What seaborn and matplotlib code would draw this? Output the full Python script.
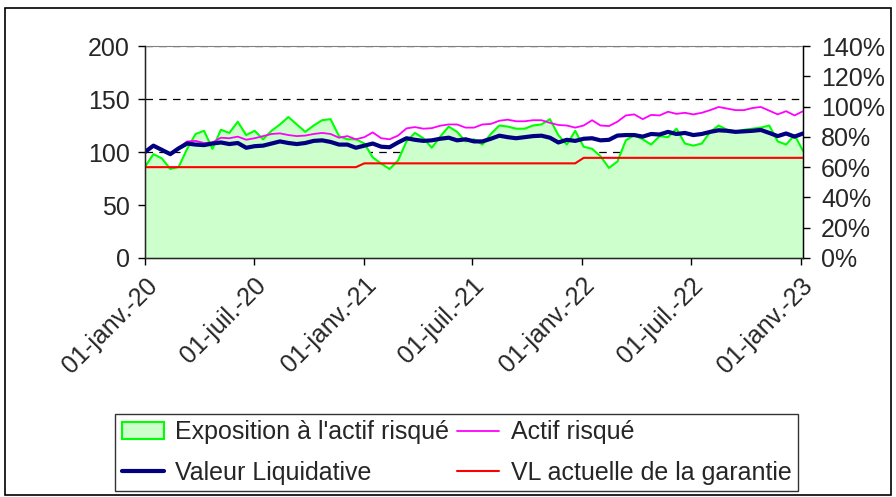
import matplotlib
matplotlib.use('Agg')
import matplotlib.pyplot as plt
from matplotlib.patches import Patch, Rectangle
from matplotlib.lines import Line2D
import pandas as pd
import seaborn as sns

# biweekly readings, Jan 2020 -> Jan 2023
dates = pd.date_range('2020-01-01', '2023-01-05', periods=79)

exposition = [86, 98, 94, 84, 86, 103, 117, 120, 103, 121, 118, 128.5, 116, 120, 112, 120,
              126, 133, 126, 119, 125, 130, 131, 115, 112, 112, 108, 95, 89, 84, 92, 110,
              118, 113, 104, 114.5, 124, 119, 110, 112, 107, 117, 125, 124, 122, 122, 125,
              126, 131, 116, 107, 120, 105, 103, 96, 85, 91, 111, 116, 112, 107, 115, 114,
              122, 108, 106, 108, 119, 125, 121, 119, 121, 122, 123, 125, 110, 107, 116, 101]

actif_risque = [101, 106, 102, 98.5, 104, 110, 110.5, 108.5, 109, 113.5, 113, 114.5, 111.6,
                113, 115, 117, 117.6, 116, 115, 115.5, 117, 118, 117, 113.5, 115, 112, 114,
                118.5, 113, 112, 115.5, 122.3, 123.5, 122, 122.5, 124.8, 126, 126, 123, 123,
                126, 126.5, 129.5, 130.5, 129, 129, 130, 130, 127.5, 125.5, 125, 123, 125,
                130, 125, 124.5, 128.6, 134.5, 135.5, 131, 135, 134.5, 138, 136, 137, 135.5,
                137, 139.5, 142.5, 141, 139.5, 139.5, 141.5, 142.5, 139, 135.5, 138.5, 134.5,
                138.5]

valeur_liquidative = [100, 106, 102, 98, 103.5, 108, 107, 106.5, 108, 109, 107.5, 108.5, 104,
                      105.5, 106, 108, 110, 108.5, 107.5, 108.5, 110.5, 111, 109.5, 107, 107,
                      104, 106, 108, 105, 104.5, 109, 113, 111.5, 110.5, 111, 112.5, 113.5, 111,
                      112, 110, 110, 112.5, 115.4, 114, 113, 114, 115, 115.4, 113.5, 109, 111.5,
                      110.5, 112.5, 113, 111, 111.5, 115.5, 116, 116, 114.5, 117, 116.5, 119,
                      117, 118, 116, 117, 119, 120.5, 120, 119, 119.5, 120, 120.8, 118, 115,
                      117.5, 114.5, 117.5]

garantie = [85.7] * 26 + [89.3] * 26 + [94.5] * 27

y_left_ticks = [0, 50, 100, 150, 200]
y_right_ticks = [0, 0.2, 0.4, 0.6, 0.8, 1.0, 1.2, 1.4]
y_right_labels = ['0%', '20%', '40%', '60%', '80%', '100%', '120%', '140%']
x_tick_dates = pd.to_datetime(['2020-01-01', '2020-07-01', '2021-01-01', '2021-07-01',
                               '2022-01-01', '2022-07-01', '2023-01-01'])
x_tick_labels = ['01-janv.-20', '01-juil.-20', '01-janv.-21', '01-juil.-21',
                 '01-janv.-22', '01-juil.-22', '01-janv.-23']

sns.set_style('white')
plt.rcParams['font.family'] = ['Liberation Sans', 'DejaVu Sans']
plt.rcParams['font.size'] = 18

fig = plt.figure(figsize=(8.96, 4.97), dpi=100)
ax = fig.add_axes([0.1618, 0.4809, 0.7344, 0.4265])

ax.fill_between(dates, 0, exposition, color='#CCFFCC', zorder=1, linewidth=0)
sns.lineplot(x=dates, y=exposition, ax=ax, color='#00FF00', linewidth=1.5, zorder=2)
sns.lineplot(x=dates, y=actif_risque, ax=ax, color='#FF00FF', linewidth=1.3, zorder=3)
sns.lineplot(x=dates, y=garantie, ax=ax, color='#FF0000', linewidth=1.5, zorder=3)
sns.lineplot(x=dates, y=valeur_liquidative, ax=ax, color='#000080', linewidth=3, zorder=4)

ax.set_xlim(dates[0], dates[-1])
ax.set_ylim(0, 200)
ax.set_yticks(y_left_ticks)
ax.set_xticks(x_tick_dates)
ax.set_xticklabels(x_tick_labels, rotation=45, ha='right', rotation_mode='anchor')
ax.set_xlabel('')
ax.set_ylabel('')
ax.set_axisbelow(True)
ax.yaxis.grid(True, linestyle=(0, (6, 5)), color='black', linewidth=0.9)
ax.tick_params(axis='both', direction='out', length=5, width=1, color='black',
               left=True, bottom=True, labelsize=18, pad=6)
for side in ['left', 'bottom', 'right']:
    ax.spines[side].set_color('black')
    ax.spines[side].set_linewidth(1)
ax.spines['top'].set_color('#808080')

ax2 = ax.twinx()
ax2.set_ylim(0, 1.4)
ax2.set_yticks(y_right_ticks)
ax2.set_yticklabels(y_right_labels)
ax2.tick_params(axis='y', direction='out', length=5, width=1, color='black',
                right=True, labelsize=18, pad=8)
ax2.spines['right'].set_color('black')
ax2.spines['top'].set_visible(False)
ax2.grid(False)

handles = [
    Patch(facecolor='#CCFFCC', edgecolor='#00FF00', linewidth=1.5),
    Line2D([0], [0], color='#000080', linewidth=3),
    Line2D([0], [0], color='#FF00FF', linewidth=1.3),
    Line2D([0], [0], color='#FF0000', linewidth=1.5),
]
labels = ["Exposition à l'actif risqué", 'Valeur Liquidative', 'Actif risqué',
          'VL actuelle de la garantie']
leg = fig.legend(handles, labels, ncol=2, loc='center', bbox_to_anchor=(0.5095, 0.0895),
                 fontsize=18, frameon=True, fancybox=False, edgecolor='black',
                 handlelength=1.7, columnspacing=0.3, handletextpad=0.45,
                 borderpad=0.25, labelspacing=0.65)
leg.get_frame().set_linewidth(1)

fig.patches.append(Rectangle((0.006, 0.004), 0.988, 0.98, transform=fig.transFigure,
                             fill=False, edgecolor='black', linewidth=1.2))

fig.savefig('out.png', dpi=100, facecolor='white')
